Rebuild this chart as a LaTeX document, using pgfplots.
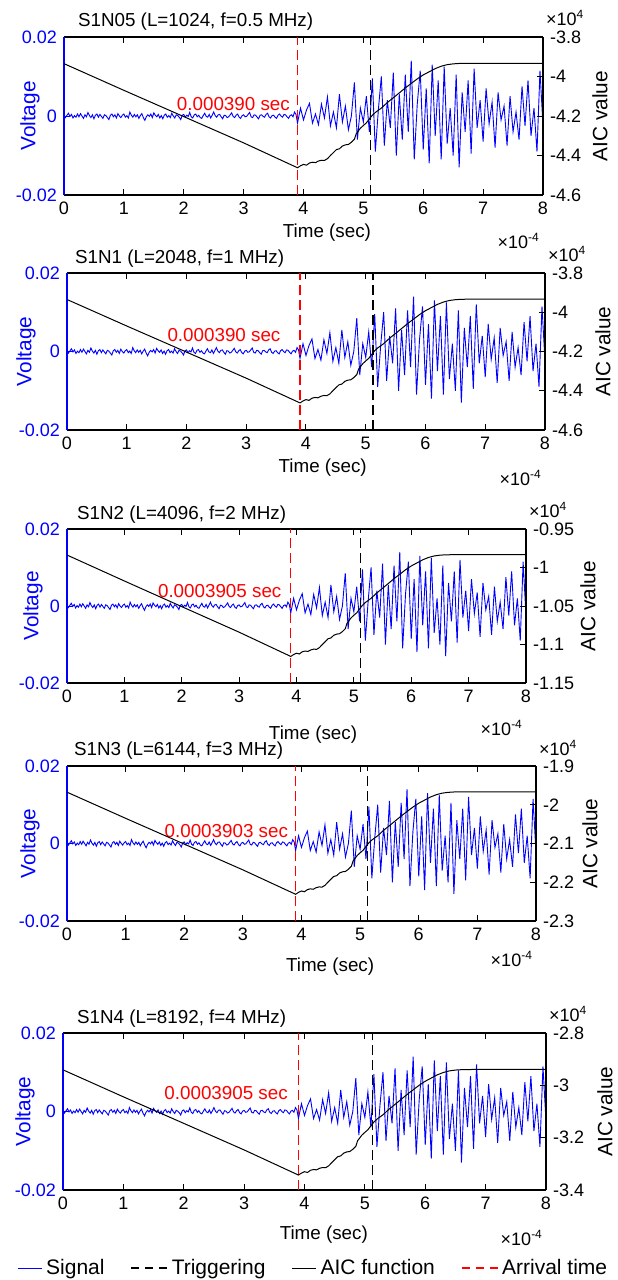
\documentclass[border=0pt]{standalone}
\usepackage{fontspec}
\setmainfont{Liberation Sans}
\usepackage{pgfplots}
\usepackage{pgfplotstable}
\pgfplotsset{compat=1.18}

\definecolor{sigblue}{RGB}{0,0,255}
\definecolor{arrred}{RGB}{255,0,0}
\newcommand\tickfont{\fontsize{9}{10}\selectfont}
\newcommand\titlefont{\fontsize{9.4}{11}\selectfont}
\newcommand\labfont{\fontsize{10.4}{11}\selectfont}
\newcommand\legfont{\fontsize{10.5}{12}\selectfont}

% signal in mV, time in 1e-4 s
\pgfplotstableread[row sep=\\]{x y\\
0 0.3\\ 0.025 -0.4\\ 0.05 0.2\\ 0.075 0.7\\ 0.1 -0.1\\ 0.125 0.4\\ 0.15 -0.5\\ 0.175 0.1\\ 0.2 -0.3\\ 0.225 0.5\\
0.25 -0.2\\ 0.275 0.6\\ 0.3 0.0\\ 0.325 -0.6\\ 0.35 0.3\\ 0.375 -0.2\\ 0.4 0.9\\ 0.425 0.1\\ 0.45 -0.4\\ 0.475 0.3\\
0.5 -0.7\\ 0.525 0.2\\ 0.55 0.5\\ 0.575 -0.3\\ 0.6 0.4\\ 0.625 -0.1\\ 0.65 -0.6\\ 0.675 0.3\\ 0.7 0.1\\ 0.725 -0.4\\
0.75 -0.9\\ 0.775 0.2\\ 0.8 0.5\\ 0.825 -0.2\\ 0.85 0.3\\ 0.875 -0.5\\ 0.9 0.6\\ 0.925 0.0\\ 0.95 -0.4\\ 0.975 0.2\\
1.0 0.5\\ 1.025 -0.3\\ 1.05 0.1\\ 1.075 -0.5\\ 1.1 1.0\\ 1.125 0.2\\ 1.15 -0.3\\ 1.175 0.4\\ 1.2 -0.2\\ 1.225 0.3\\
1.25 -0.6\\ 1.275 0.1\\ 1.3 0.6\\ 1.325 -0.4\\ 1.35 -1.1\\ 1.375 -0.2\\ 1.4 0.3\\ 1.425 -0.1\\ 1.45 0.5\\ 1.475 -0.4\\
1.5 0.8\\ 1.525 0.2\\ 1.55 -0.2\\ 1.575 0.4\\ 1.6 -0.5\\ 1.625 0.1\\ 1.65 -0.7\\ 1.675 0.2\\ 1.7 0.5\\ 1.725 -0.3\\
1.75 0.1\\ 1.775 -0.4\\ 1.8 0.7\\ 1.825 0.0\\ 1.85 -0.5\\ 1.875 0.3\\ 1.9 0.1\\ 1.925 -0.3\\ 1.95 -0.9\\ 1.975 0.2\\
2.0 0.4\\ 2.025 -0.3\\ 2.05 0.2\\ 2.075 -0.1\\ 2.1 0.9\\ 2.125 -0.2\\ 2.15 -0.5\\ 2.175 0.3\\ 2.2 0.5\\ 2.225 -0.2\\
2.25 0.2\\ 2.275 -0.4\\ 2.3 -0.6\\ 2.325 0.1\\ 2.35 0.7\\ 2.375 -0.1\\ 2.4 -0.3\\ 2.425 0.4\\ 2.45 -0.5\\ 2.475 0.2\\
2.5 1.0\\ 2.525 0.1\\ 2.55 -0.3\\ 2.575 0.3\\ 2.6 0.4\\ 2.625 -0.2\\ 2.65 -0.7\\ 2.675 0.2\\ 2.7 0.1\\ 2.725 -0.4\\
2.75 -0.2\\ 2.775 0.3\\ 2.8 0.8\\ 2.825 -0.1\\ 2.85 -0.4\\ 2.875 0.2\\ 2.9 0.5\\ 2.925 -0.3\\ 2.95 -0.6\\ 2.975 0.1\\
3.0 0.3\\ 3.025 -0.2\\ 3.05 -0.1\\ 3.075 0.4\\ 3.1 0.9\\ 3.125 -0.2\\ 3.15 -0.4\\ 3.175 0.3\\ 3.2 0.2\\ 3.225 -0.3\\
3.25 -0.7\\ 3.275 0.2\\ 3.3 0.3\\ 3.325 -0.1\\ 3.35 -0.3\\ 3.375 0.4\\ 3.4 0.7\\ 3.425 -0.2\\ 3.45 -0.5\\ 3.475 0.1\\
3.5 0.2\\ 3.525 -0.3\\ 3.55 -0.6\\ 3.575 0.2\\ 3.6 0.5\\ 3.625 0.0\\ 3.65 -0.3\\ 3.675 0.4\\ 3.7 0.3\\ 3.725 -0.2\\
3.75 -0.6\\ 3.775 0.1\\ 3.8 0.3\\ 3.825 -0.2\\ 3.85 1.0\\ 3.875 0.4\\ 3.9 -1.8\\
3.95 2.0\\ 4.0 -1.0\\ 4.05 1.5\\ 4.1 3.2\\ 4.15 -1.8\\ 4.2 0.5\\ 4.25 -2.2\\ 4.3 3.0\\ 4.35 -0.5\\ 4.4 4.8\\
4.45 -2.5\\ 4.5 1.0\\ 4.55 -3.0\\ 4.6 5.5\\ 4.65 -1.5\\ 4.7 2.5\\ 4.75 -3.5\\ 4.8 0.0\\ 4.85 8.5\\ 4.9 -6.0\\
4.95 2.0\\ 5.0 -1.5\\ 5.05 5.0\\ 5.1 -4.0\\ 5.15 9.5\\ 5.2 -9.0\\ 5.25 1.5\\ 5.3 10.0\\ 5.35 -7.5\\ 5.4 4.0\\
5.45 -3.0\\ 5.5 11.0\\ 5.55 -10.0\\ 5.6 5.5\\ 5.65 -6.0\\ 5.7 10.5\\ 5.75 -4.0\\ 5.8 14.0\\ 5.85 -11.0\\ 5.9 3.0\\
5.95 11.5\\ 6.0 -8.5\\ 6.05 7.0\\ 6.1 -12.0\\ 6.15 13.0\\ 6.2 -5.0\\ 6.25 9.0\\ 6.3 -11.0\\ 6.35 12.5\\ 6.4 -7.0\\
6.45 2.0\\ 6.5 -10.0\\ 6.55 10.5\\ 6.6 -13.0\\ 6.65 6.0\\ 6.7 -4.0\\ 6.75 9.0\\ 6.8 -9.5\\ 6.85 12.0\\ 6.9 -3.0\\
6.95 4.0\\ 7.0 -6.5\\ 7.05 7.0\\ 7.1 -2.0\\ 7.15 3.5\\ 7.2 -8.0\\ 7.25 6.0\\ 7.3 -1.0\\ 7.35 2.5\\ 7.4 -7.5\\
7.45 5.0\\ 7.5 -4.0\\ 7.55 1.0\\ 7.6 -6.0\\ 7.65 7.5\\ 7.7 -2.5\\ 7.75 9.0\\ 7.8 -5.0\\ 7.85 2.0\\ 7.9 -9.0\\
7.95 11.5\\ 8.0 -2.5\\
}\sig

% AIC values in 1e4
\pgfplotstableread[row sep=\\]{x y\\
0 -3.935\\ 1 -4.070\\ 2 -4.203\\ 3 -4.336\\ 3.9 -4.462\\ 3.95 -4.452\\ 4.0 -4.445\\ 4.05 -4.449\\ 4.1 -4.438\\
4.15 -4.434\\ 4.2 -4.436\\ 4.25 -4.428\\ 4.3 -4.424\\ 4.35 -4.425\\ 4.4 -4.416\\ 4.45 -4.400\\ 4.5 -4.385\\
4.55 -4.370\\ 4.6 -4.366\\ 4.65 -4.352\\ 4.7 -4.346\\ 4.75 -4.344\\ 4.8 -4.333\\ 4.85 -4.318\\ 4.88 -4.290\\
4.95 -4.262\\ 5.0 -4.248\\ 5.05 -4.235\\ 5.1 -4.215\\ 5.15 -4.196\\ 5.2 -4.182\\ 5.3 -4.160\\ 5.4 -4.132\\
5.5 -4.108\\ 5.6 -4.083\\ 5.7 -4.058\\ 5.8 -4.035\\ 5.9 -4.012\\ 6.0 -3.992\\ 6.1 -3.976\\ 6.2 -3.960\\
6.3 -3.948\\ 6.4 -3.940\\ 6.5 -3.936\\ 6.6 -3.934\\ 6.8 -3.933\\ 8.0 -3.933\\
}\aicA

\pgfplotstableread[row sep=\\]{x y\\
0 -0.9838\\ 1 -1.0175\\ 2 -1.0508\\ 3 -1.084\\ 3.9 -1.1155\\ 3.95 -1.113\\ 4.0 -1.1113\\ 4.05 -1.1123\\ 4.1 -1.1095\\
4.15 -1.1085\\ 4.2 -1.109\\ 4.25 -1.107\\ 4.3 -1.106\\ 4.35 -1.1063\\ 4.4 -1.104\\ 4.45 -1.100\\ 4.5 -1.0963\\
4.55 -1.0925\\ 4.6 -1.0915\\ 4.65 -1.088\\ 4.7 -1.0865\\ 4.75 -1.086\\ 4.8 -1.0833\\ 4.85 -1.0795\\ 4.88 -1.0725\\
4.95 -1.0655\\ 5.0 -1.062\\ 5.05 -1.0588\\ 5.1 -1.0538\\ 5.15 -1.049\\ 5.2 -1.0455\\ 5.3 -1.040\\ 5.4 -1.033\\
5.5 -1.027\\ 5.6 -1.0208\\ 5.7 -1.0145\\ 5.8 -1.0088\\ 5.9 -1.003\\ 6.0 -0.998\\ 6.1 -0.994\\ 6.2 -0.990\\
6.3 -0.987\\ 6.4 -0.985\\ 6.5 -0.984\\ 6.6 -0.9835\\ 6.8 -0.9833\\ 8.0 -0.9833\\
}\aicC

\pgfplotstableread[row sep=\\]{x y\\
0 -1.9675\\ 1 -2.035\\ 2 -2.1015\\ 3 -2.168\\ 3.9 -2.231\\ 3.95 -2.226\\ 4.0 -2.2225\\ 4.05 -2.2245\\ 4.1 -2.219\\
4.15 -2.217\\ 4.2 -2.218\\ 4.25 -2.214\\ 4.3 -2.212\\ 4.35 -2.2125\\ 4.4 -2.208\\ 4.45 -2.200\\ 4.5 -2.1925\\
4.55 -2.185\\ 4.6 -2.183\\ 4.65 -2.176\\ 4.7 -2.173\\ 4.75 -2.172\\ 4.8 -2.1665\\ 4.85 -2.159\\ 4.88 -2.145\\
4.95 -2.131\\ 5.0 -2.124\\ 5.05 -2.1175\\ 5.1 -2.1075\\ 5.15 -2.098\\ 5.2 -2.091\\ 5.3 -2.080\\ 5.4 -2.066\\
5.5 -2.054\\ 5.6 -2.0415\\ 5.7 -2.029\\ 5.8 -2.0175\\ 5.9 -2.006\\ 6.0 -1.996\\ 6.1 -1.988\\ 6.2 -1.980\\
6.3 -1.974\\ 6.4 -1.970\\ 6.5 -1.968\\ 6.6 -1.967\\ 6.8 -1.9665\\ 8.0 -1.9665\\
}\aicD

\pgfplotstableread[row sep=\\]{x y\\
0 -2.9408\\ 1 -3.0439\\ 2 -3.1453\\ 3 -3.2468\\ 3.9 -3.3429\\ 3.95 -3.3353\\ 4.0 -3.330\\ 4.05 -3.333\\ 4.1 -3.3246\\
4.15 -3.3216\\ 4.2 -3.3231\\ 4.25 -3.317\\ 4.3 -3.314\\ 4.35 -3.3147\\ 4.4 -3.3078\\ 4.45 -3.2956\\ 4.5 -3.2842\\
4.55 -3.2728\\ 4.6 -3.2697\\ 4.65 -3.259\\ 4.7 -3.2544\\ 4.75 -3.2529\\ 4.8 -3.2445\\ 4.85 -3.2331\\ 4.88 -3.2117\\
4.95 -3.1903\\ 5.0 -3.1797\\ 5.05 -3.1697\\ 5.1 -3.1545\\ 5.15 -3.140\\ 5.2 -3.1293\\ 5.3 -3.1125\\ 5.4 -3.0912\\
5.5 -3.0728\\ 5.6 -3.0538\\ 5.7 -3.0347\\ 5.8 -3.0171\\ 5.9 -2.9996\\ 6.0 -2.9843\\ 6.1 -2.9721\\ 6.2 -2.9599\\
6.3 -2.9508\\ 6.4 -2.9447\\ 6.5 -2.9416\\ 6.6 -2.9401\\ 6.8 -2.9393\\ 8.0 -2.9393\\
}\aicE

\pgfplotsset{
  leftax/.style={
    scale only axis, anchor=north west, clip mode=individual,
    xmin=0, xmax=8, ymin=-20, ymax=20,
    axis y line*=left,
    xtick={0,1,...,8}, ytick={-20,0,20}, yticklabels={-0.02,0,0.02},
    tick align=inside, major tick length=3pt,
    axis line style={line width=0.6pt},
    y axis line style={sigblue},
    xtick style={black, line width=0.5pt},
    ytick style={sigblue, line width=0.5pt},
    yticklabel style={text=sigblue},
    tick label style={font=\tickfont},
    /pgf/number format/assume math mode=true,
    scaled ticks=false,
  },
  rightax/.style={
    scale only axis, anchor=north west, clip mode=individual,
    xmin=0, xmax=8,
    axis x line=none, axis y line*=right,
    tick align=inside, major tick length=3pt,
    axis line style={line width=0.6pt},
    ytick style={black, line width=0.5pt},
    tick label style={font=\tickfont},
    scaled ticks=false,
  },
  sigline/.style={sigblue, line width=0.45pt},
  aicline/.style={black, line width=0.5pt},
  arrline/.style={arrred, line width=0.6pt, dash pattern=on 5pt off 2.5pt},
  trgline/.style={black, line width=0.6pt, dash pattern=on 5pt off 2.5pt},
}

\begin{document}
\begin{tikzpicture}
\path[use as bounding box] (0pt,0pt) rectangle (308.5pt,-640pt);

% ---------- panel 1
\begin{axis}[leftax, at={(32pt,-18.5pt)}, width=239.5pt, height=79pt]
\addplot[sigline] table {\sig};
\addplot[arrline] coordinates {(3.9,-20) (3.9,20)};
\addplot[trgline] coordinates {(5.12,-20) (5.12,20)};
\node[anchor=east, text=arrred, font=\titlefont] at (axis cs:3.89,3.0) {0.000390 sec};
\node[anchor=west, font=\titlefont, xshift=3.5pt, yshift=7.5pt] at (rel axis cs:0,1) {S1N05 (L=1024, f=0.5 MHz)};
\node[font=\labfont, text=sigblue, rotate=90, yshift=17pt] at (rel axis cs:0,0.5) {Voltage};
\node[font=\titlefont, yshift=-19pt] at (rel axis cs:0.549,0) {Time (sec)};
\node[anchor=east, font=\tickfont, xshift=2pt, yshift=-23pt] at (rel axis cs:1,0) {×10\textsuperscript{-4}};
\end{axis}
\begin{axis}[rightax, at={(32pt,-18.5pt)}, width=239.5pt, height=79pt,
  ymin=-4.6, ymax=-3.8, ytick={-4.6,-4.4,-4.2,-4,-3.8}, yticklabels={-4.6,-4.4,-4.2,-4,-3.8}]
\addplot[aicline] table {\aicA};
\node[anchor=west, font=\tickfont, xshift=-2pt, yshift=9.5pt] at (rel axis cs:1,1) {×10\textsuperscript{4}};
\node[font=\labfont, rotate=90, yshift=-28.5pt] at (rel axis cs:1,0.5) {AIC value};
\end{axis}

% ---------- panel 2
\begin{axis}[leftax, at={(33.5pt,-136.5pt)}, width=239pt, height=78.5pt]
\addplot[sigline] table {\sig};
\addplot[arrline] coordinates {(3.9,-20) (3.9,20)};
\addplot[trgline] coordinates {(5.12,-20) (5.12,20)};
\node[anchor=east, text=arrred, font=\titlefont] at (axis cs:3.69,4.1) {0.000390 sec};
\node[anchor=west, font=\titlefont, xshift=0.5pt, yshift=7pt] at (rel axis cs:0,1) {S1N1 (L=2048, f=1 MHz)};
\node[font=\labfont, text=sigblue, rotate=90, yshift=20.5pt] at (rel axis cs:0,0.5) {Voltage};
\node[font=\titlefont, yshift=-19pt] at (rel axis cs:0.535,0) {Time (sec)};
\node[anchor=east, font=\tickfont, xshift=2pt, yshift=-24pt] at (rel axis cs:1,0) {×10\textsuperscript{-4}};
\end{axis}
\begin{axis}[rightax, at={(33.5pt,-136.5pt)}, width=239pt, height=78.5pt,
  ymin=-4.6, ymax=-3.8, ytick={-4.6,-4.4,-4.2,-4,-3.8}, yticklabels={-4.6,-4.4,-4.2,-4,-3.8}]
\addplot[aicline] table {\aicA};
\node[anchor=west, font=\tickfont, xshift=-2pt, yshift=9.5pt] at (rel axis cs:1,1) {×10\textsuperscript{4}};
\node[font=\labfont, rotate=90, yshift=-29pt] at (rel axis cs:1,0.5) {AIC value};
\end{axis}

% ---------- panel 3
\begin{axis}[leftax, at={(33.5pt,-264.5pt)}, width=229.5pt, height=77pt]
\addplot[sigline] table {\sig};
\addplot[arrline] coordinates {(3.9,-20) (3.9,20)};
\addplot[trgline] coordinates {(5.12,-20) (5.12,20)};
\node[anchor=east, text=arrred, font=\titlefont] at (axis cs:3.86,3.9) {0.0003905 sec};
\node[anchor=west, font=\titlefont, xshift=1.5pt, yshift=7pt] at (rel axis cs:0,1) {S1N2 (L=4096, f=2 MHz)};
\node[font=\labfont, text=sigblue, rotate=90, yshift=17pt] at (rel axis cs:0,0.5) {Voltage};
\node[font=\titlefont, yshift=-26pt] at (rel axis cs:0.536,0) {Time (sec)};
\node[anchor=east, font=\tickfont, xshift=2pt, yshift=-22.5pt] at (rel axis cs:1,0) {×10\textsuperscript{-4}};
\end{axis}
\begin{axis}[rightax, at={(33.5pt,-264.5pt)}, width=229.5pt, height=77pt,
  ymin=-1.15, ymax=-0.95, ytick={-1.15,-1.1,-1.05,-1,-0.95}, yticklabels={-1.15,-1.1,-1.05,-1,-0.95}]
\addplot[aicline] table {\aicC};
\node[anchor=west, font=\tickfont, xshift=-2pt, yshift=9.5pt] at (rel axis cs:1,1) {×10\textsuperscript{4}};
\node[font=\labfont, rotate=90, yshift=-31pt] at (rel axis cs:1,0.5) {AIC value};
\end{axis}

% ---------- panel 4
\begin{axis}[leftax, at={(33.5pt,-383pt)}, width=234.5pt, height=77.5pt]
\addplot[sigline] table {\sig};
\addplot[arrline] coordinates {(3.9,-20) (3.9,20)};
\addplot[trgline] coordinates {(5.12,-20) (5.12,20)};
\node[anchor=east, text=arrred, font=\titlefont] at (axis cs:3.89,3.1) {0.0003903 sec};
\node[anchor=west, font=\titlefont, yshift=7.5pt] at (rel axis cs:0,1) {S1N3 (L=6144, f=3 MHz)};
\node[font=\labfont, text=sigblue, rotate=90, yshift=18.5pt] at (rel axis cs:0,0.5) {Voltage};
\node[font=\titlefont, yshift=-23pt] at (rel axis cs:0.561,0) {Time (sec)};
\node[anchor=east, font=\tickfont, xshift=2pt, yshift=-19pt] at (rel axis cs:1,0) {×10\textsuperscript{-4}};
\end{axis}
\begin{axis}[rightax, at={(33.5pt,-383pt)}, width=234.5pt, height=77.5pt,
  ymin=-2.3, ymax=-1.9, ytick={-2.3,-2.2,-2.1,-2,-1.9}, yticklabels={-2.3,-2.2,-2.1,-2,-1.9}]
\addplot[aicline] table {\aicD};
\node[anchor=west, font=\tickfont, xshift=-2pt, yshift=9pt] at (rel axis cs:1,1) {×10\textsuperscript{4}};
\node[font=\labfont, rotate=90, yshift=-27pt] at (rel axis cs:1,0.5) {AIC value};
\end{axis}

% ---------- panel 5
\begin{axis}[leftax, at={(31.5pt,-516.5pt)}, width=241.5pt, height=78.5pt]
\addplot[sigline] table {\sig};
\addplot[arrline] coordinates {(3.9,-20) (3.9,20)};
\addplot[trgline] coordinates {(5.12,-20) (5.12,20)};
\node[anchor=east, text=arrred, font=\titlefont] at (axis cs:3.84,4.8) {0.0003905 sec};
\node[anchor=west, font=\titlefont, xshift=3.5pt, yshift=7pt] at (rel axis cs:0,1) {S1N4 (L=8192, f=4 MHz)};
\node[font=\labfont, text=sigblue, rotate=90, yshift=19pt] at (rel axis cs:0,0.5) {Voltage};
\node[font=\titlefont, yshift=-22.5pt] at (rel axis cs:0.54,0) {Time (sec)};
\node[anchor=east, font=\tickfont, xshift=2pt, yshift=-24pt] at (rel axis cs:1,0) {×10\textsuperscript{-4}};
\end{axis}
\begin{axis}[rightax, at={(31.5pt,-516.5pt)}, width=241.5pt, height=78.5pt,
  ymin=-3.4, ymax=-2.8, ytick={-3.4,-3.2,-3,-2.8}, yticklabels={-3.4,-3.2,-3,-2.8},
  legend style={at={(0.52,-0.497)}, anchor=center, draw=none, fill=none,
    legend columns=4, font=\legfont, inner sep=0pt,
    /tikz/every even column/.append style={column sep=11pt}},
  legend cell align=left]
\addplot[aicline, forget plot] table {\aicE};
\node[anchor=west, font=\tickfont, xshift=-2pt, yshift=9.5pt] at (rel axis cs:1,1) {×10\textsuperscript{4}};
\node[font=\labfont, rotate=90, yshift=-29.5pt] at (rel axis cs:1,0.5) {AIC value};
\addlegendimage{legend image code/.code={\draw[sigblue, line width=0.5pt] (0pt,0pt) -- (12pt,0pt);}}
\addlegendentry{Signal}
\addlegendimage{legend image code/.code={\draw[black, line width=0.6pt, dash pattern=on 4pt off 3pt] (0pt,0pt) -- (18pt,0pt);}}
\addlegendentry{Triggering}
\addlegendimage{legend image code/.code={\draw[black, line width=0.5pt] (0pt,0pt) -- (12pt,0pt);}}
\addlegendentry{AIC function}
\addlegendimage{legend image code/.code={\draw[arrred, line width=0.6pt, dash pattern=on 4pt off 3pt] (0pt,0pt) -- (18pt,0pt);}}
\addlegendentry{Arrival time}
\end{axis}
\end{tikzpicture}
\end{document}
